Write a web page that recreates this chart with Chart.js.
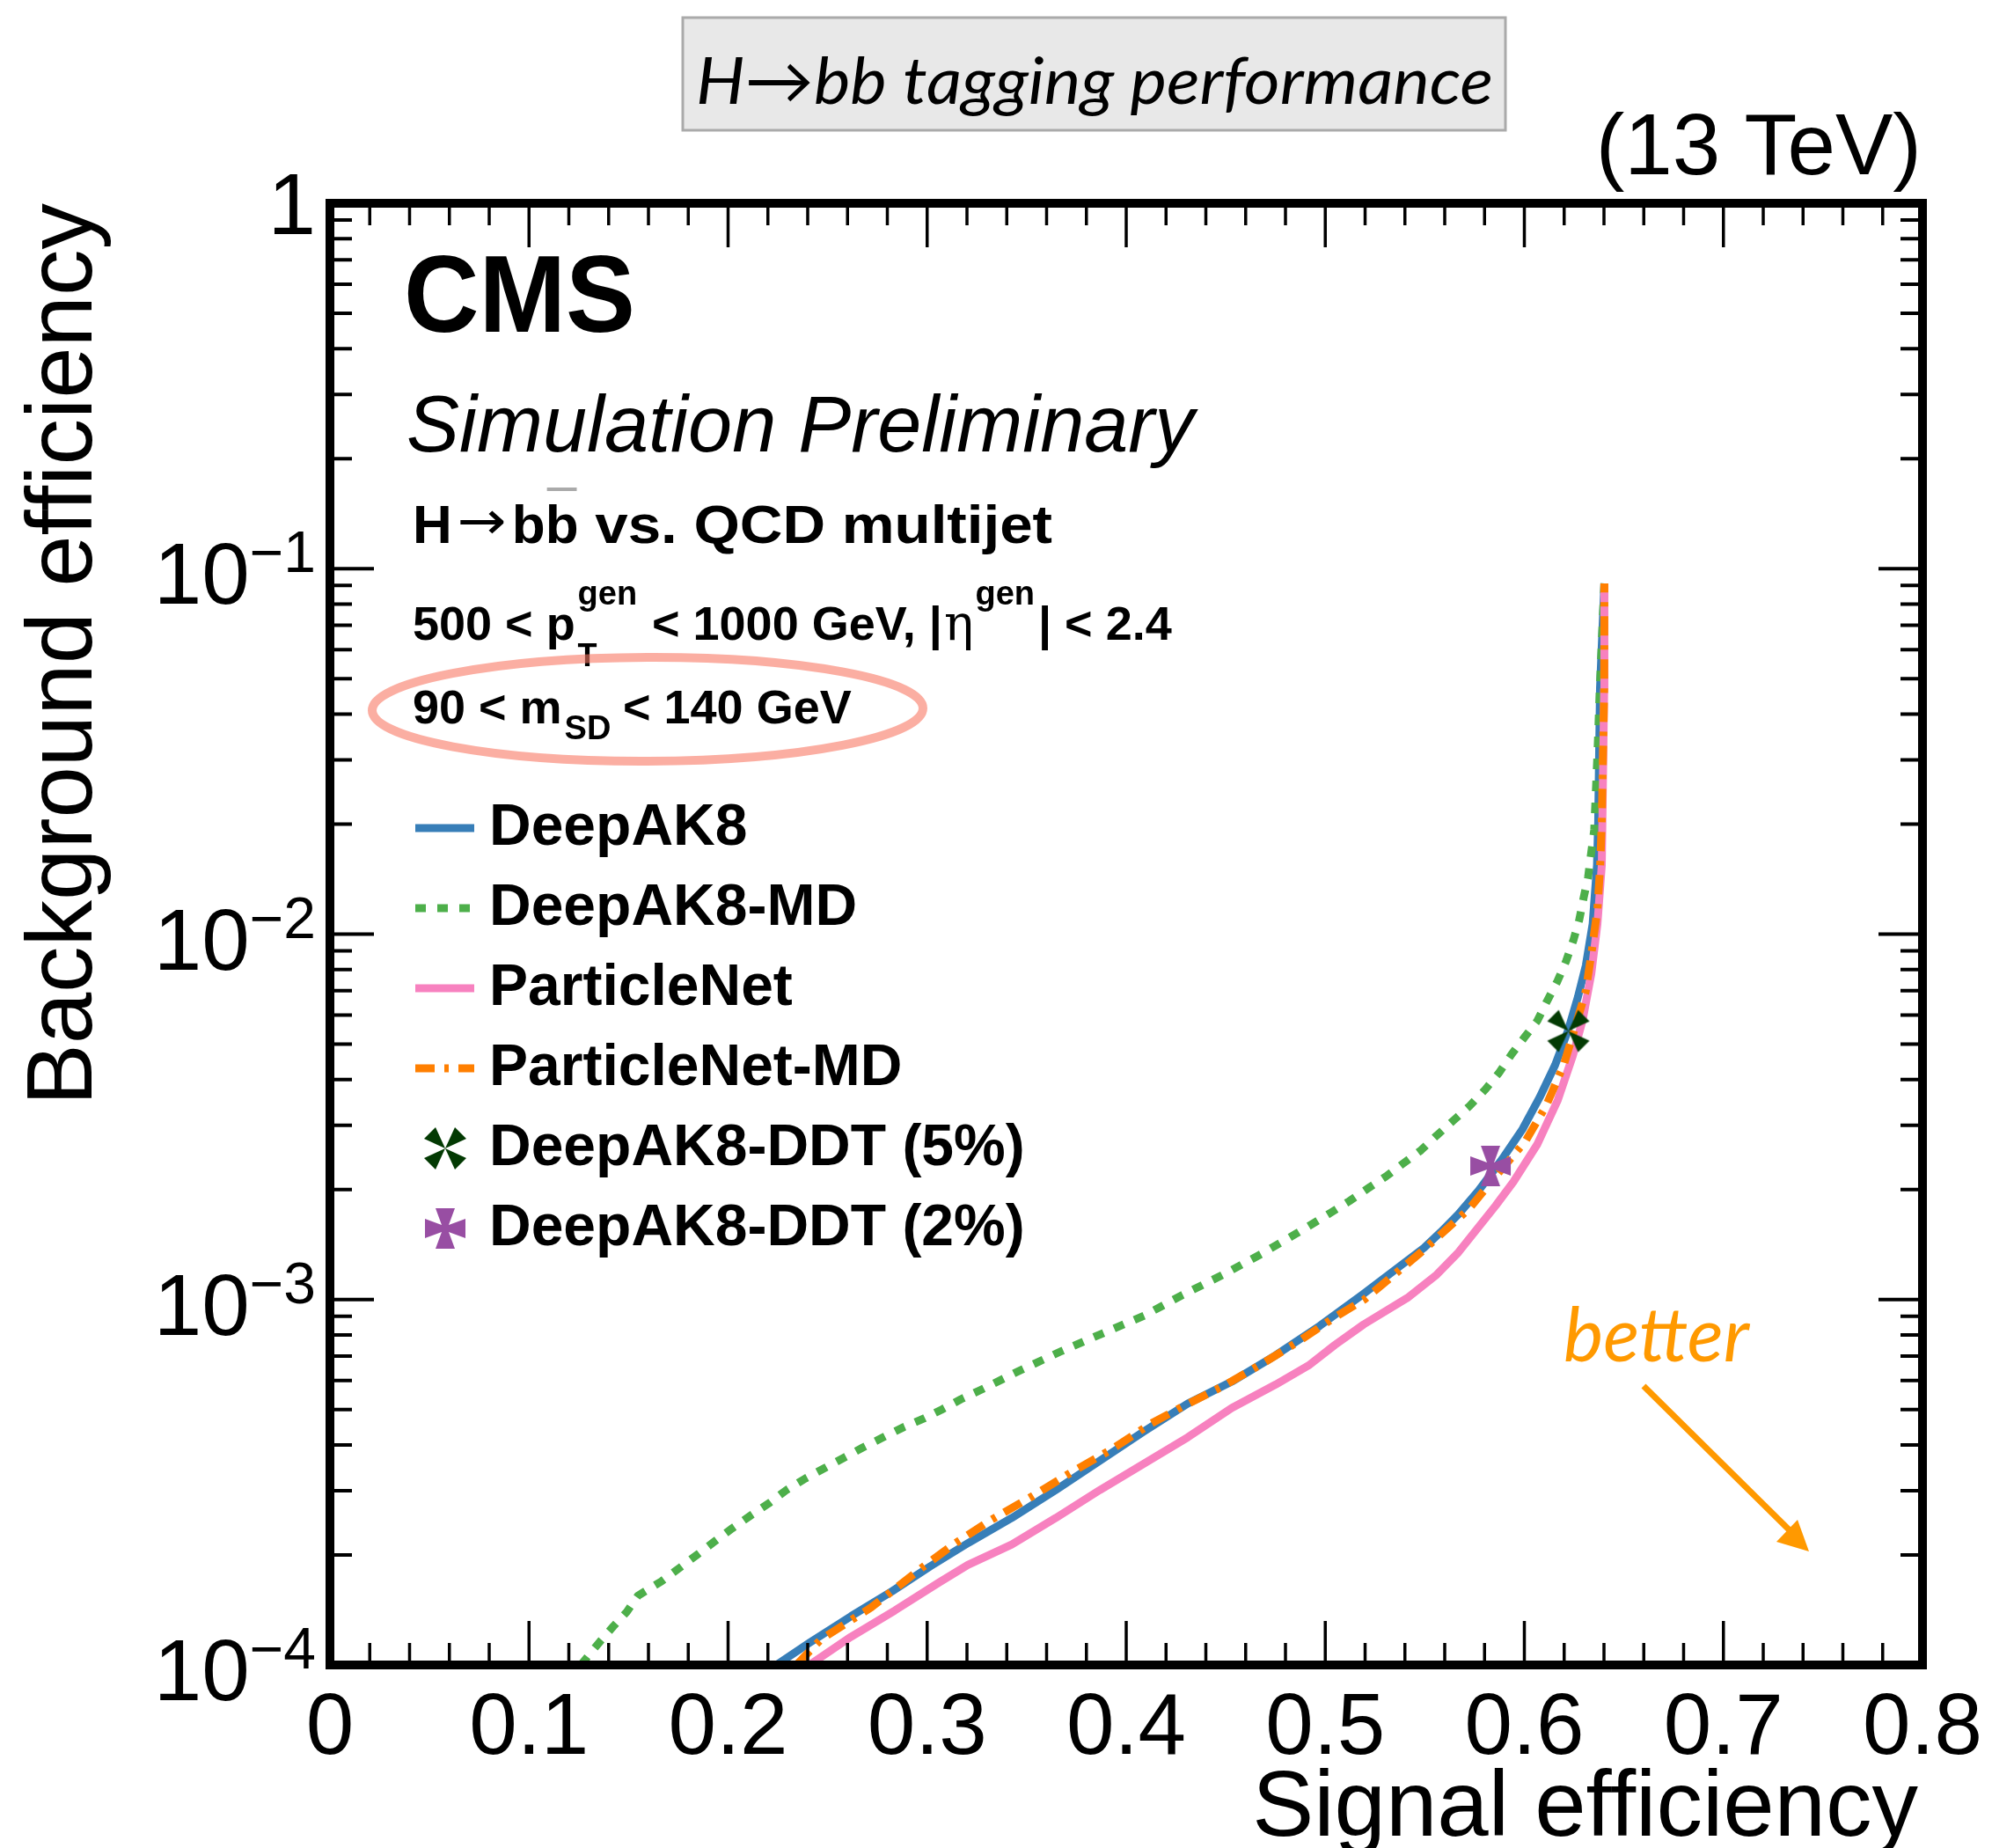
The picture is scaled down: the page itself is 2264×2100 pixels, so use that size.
<!DOCTYPE html>
<html>
<head>
<meta charset="utf-8">
<script src="https://cdn.jsdelivr.net/npm/chart.js@4.4.1/dist/chart.umd.min.js"></script>
<style>
  html, body { margin: 0; padding: 0; background: #ffffff; }
  canvas { display: block; }
</style>
</head>
<body>
<canvas id="chart" width="2264" height="2100"></canvas>
<script>
// ROC curves: signal efficiency vs background efficiency
const sigDeepAK8 = [0.2243, 0.2409, 0.2617, 0.2823, 0.3015, 0.3207, 0.3425, 0.3646, 0.3867, 0.4088, 0.4309, 0.4530, 0.4751, 0.4972, 0.5187, 0.5496, 0.5580, 0.5668, 0.5770, 0.5889, 0.5991, 0.6077, 0.6155, 0.6221, 0.6269, 0.6309, 0.6343, 0.6365, 0.6371, 0.6380, 0.6402];
const bkgDeepAK8 = [1.0e-4, 1.150e-4, 1.359e-4, 1.590e-4, 1.861e-4, 2.158e-4, 2.525e-4, 3.010e-4, 3.620e-4, 4.353e-4, 5.190e-4, 5.962e-4, 7.04e-4, 8.47e-4, 1.032e-3, 1.385e-3, 1.530e-3, 1.710e-3, 1.986e-3, 2.425e-3, 2.928e-3, 3.576e-3, 4.389e-3, 5.48e-3, 6.727e-3, 8.21e-3, 0.01066, 0.01545, 0.02039, 0.04684, 0.0911];

const sigDeepAK8MD = [0.1260, 0.1358, 0.1424, 0.1491, 0.1547, 0.1667, 0.1756, 0.1844, 0.1932, 0.2021, 0.2116, 0.2205, 0.2293, 0.2389, 0.2485, 0.2580, 0.2676, 0.2779, 0.2883, 0.2986, 0.3074, 0.3170, 0.3264, 0.3472, 0.3678, 0.3883, 0.4090, 0.4281, 0.4488, 0.4678, 0.4855, 0.5028, 0.5120, 0.5217, 0.5304, 0.5392, 0.5481, 0.5561, 0.5645, 0.5724, 0.5804, 0.5870, 0.5936, 0.6003, 0.6065, 0.6113, 0.6166, 0.6210, 0.6247, 0.6276, 0.6298, 0.6320, 0.6334, 0.6351, 0.6367, 0.6379, 0.6402];
const bkgDeepAK8MD = [1.0e-4, 1.161e-4, 1.276e-4, 1.397e-4, 1.547e-4, 1.696e-4, 1.843e-4, 2.002e-4, 2.177e-4, 2.366e-4, 2.571e-4, 2.769e-4, 3.010e-4, 3.240e-4, 3.457e-4, 3.686e-4, 3.933e-4, 4.198e-4, 4.478e-4, 4.732e-4, 5.002e-4, 5.336e-4, 5.640e-4, 6.418e-4, 7.238e-4, 8.085e-4, 9.036e-4, 1.028e-3, 1.171e-3, 1.332e-3, 1.516e-3, 1.729e-3, 1.858e-3, 2.019e-3, 2.170e-3, 2.359e-3, 2.563e-3, 2.816e-3, 3.095e-3, 3.382e-3, 3.758e-3, 4.153e-3, 4.690e-3, 5.241e-3, 5.790e-3, 6.541e-3, 7.43e-3, 8.44e-3, 9.65e-3, 0.01096, 0.01259, 0.01429, 0.01642, 0.01929, 0.0309, 0.04684, 0.0911];

const sigParticleNet = [0.2409, 0.2617, 0.2838, 0.3059, 0.3204, 0.3425, 0.3646, 0.3867, 0.4088, 0.4309, 0.4530, 0.4751, 0.4916, 0.5048, 0.5193, 0.5412, 0.5560, 0.5669, 0.5856, 0.5945, 0.6066, 0.6168, 0.6243, 0.6292, 0.6336, 0.6367, 0.6389, 0.6392, 0.6401, 0.6402];
const bkgParticleNet = [1.0e-4, 1.194e-4, 1.410e-4, 1.681e-4, 1.878e-4, 2.137e-4, 2.525e-4, 3.010e-4, 3.554e-4, 4.198e-4, 5.049e-4, 5.853e-4, 6.599e-4, 7.510e-4, 8.55e-4, 1.010e-3, 1.170e-3, 1.347e-3, 1.807e-3, 2.099e-3, 2.665e-3, 3.515e-3, 4.639e-3, 5.790e-3, 7.772e-3, 0.01066, 0.01545, 0.02039, 0.04684, 0.0911];

const sigParticleNetMD = [0.2343, 0.2466, 0.2718, 0.2983, 0.3133, 0.3325, 0.3531, 0.3723, 0.3929, 0.4120, 0.4297, 0.4488, 0.4680, 0.4872, 0.5048, 0.5196, 0.5481, 0.5724, 0.5856, 0.6006, 0.6109, 0.6198, 0.6256, 0.6308, 0.6337, 0.6367, 0.6381, 0.6389, 0.6401, 0.6402];
const bkgParticleNetMD = [1.0e-4, 1.174e-4, 1.436e-4, 1.861e-4, 2.137e-4, 2.501e-4, 2.900e-4, 3.363e-4, 3.896e-4, 4.562e-4, 5.140e-4, 5.80e-4, 6.66e-4, 7.72e-4, 8.95e-4, 1.000e-3, 1.347e-3, 1.775e-3, 2.175e-3, 2.714e-3, 3.388e-3, 4.389e-3, 5.58e-3, 6.966e-3, 8.86e-3, 0.01169, 0.01543, 0.02036, 0.04684, 0.0911];

// DDT working points
const sigDDT5 = [0.6221];
const bkgDDT5 = [0.00543];
const sigDDT2 = [0.5830];
const bkgDDT2 = [0.00232];

// axis ticks
const xTickValues = [0, 0.1, 0.2, 0.3, 0.4, 0.5, 0.6, 0.7, 0.8];
const xTickLabels = ["0", "0.1", "0.2", "0.3", "0.4", "0.5", "0.6", "0.7", "0.8"];
const yTickValues = [1, 0.1, 0.01, 0.001, 0.0001];
const yTickExponents = [0, -1, -2, -3, -4];

const SANS = '"Liberation Sans", Arial, Helvetica, sans-serif';
const HUMANIST = 'Lato, "Open Sans", "DejaVu Sans", sans-serif';

function zip(xs, ys) {
  let n = Math.min(xs.length, ys.length);
  let out = [];
  for (let i = 0; i < n; i++) out.push({x: xs[i], y: ys[i]});
  return out;
}

// Marker images (ROOT style crosses)
function makeMarker(color, diagonal) {
  let c = document.createElement("canvas");
  c.width = 54; c.height = 54;
  let g = c.getContext("2d");
  g.translate(27, 27);
  g.fillStyle = color;
  if (diagonal) {
    for (let k = 0; k < 4; k++) {
      g.save();
      g.rotate(k * Math.PI / 2);
      g.beginPath();
      g.moveTo(0, 0);
      g.lineTo(-24, -11);
      g.lineTo(-11, -24);
      g.closePath();
      g.fill();
      g.restore();
    }
  } else {
    g.beginPath();
    let pts = [[-11,-23],[11,-23],[4,-4],[23,-11],[23,11],[4,4],[11,23],[-11,23],[-4,4],[-23,11],[-23,-11],[-4,-4]];
    g.moveTo(pts[0][0], pts[0][1]);
    pts.slice(1).forEach(p => g.lineTo(p[0], p[1]));
    g.closePath();
    g.fill();
  }
  return c;
}

const markerDDT5 = makeMarker("#033a03", true);
const markerDDT2 = makeMarker("#984ea3", false);

function lineSet(label, xs, ys, color, dash, order) {
  return {
    label: label,
    data: zip(xs, ys),
    borderColor: color,
    backgroundColor: color,
    borderWidth: 9,
    borderDash: dash,
    borderCapStyle: "butt",
    borderJoinStyle: "round",
    pointRadius: 0,
    tension: 0,
    fill: false,
    order: order
  };
}

function pointSet(label, xs, ys, img) {
  return {
    label: label,
    data: zip(xs, ys),
    showLine: false,
    pointStyle: img,
    pointRadius: 26,
    borderColor: "transparent",
    backgroundColor: "transparent",
    order: 0
  };
}

const datasets = [
  lineSet("DeepAK8", sigDeepAK8, bkgDeepAK8, "#377eb8", [], 4),
  lineSet("DeepAK8-MD", sigDeepAK8MD, bkgDeepAK8MD, "#4daf4a", [12, 13], 3),
  lineSet("ParticleNet", sigParticleNet, bkgParticleNet, "#f781bf", [], 2),
  lineSet("ParticleNet-MD", sigParticleNetMD, bkgParticleNetMD, "#ff7f00", [22, 11, 5, 11], 1),
  pointSet("DeepAK8-DDT (5%)", sigDDT5, bkgDDT5, markerDDT5),
  pointSet("DeepAK8-DDT (2%)", sigDDT2, bkgDDT2, markerDDT2)
];

// draw text squeezed/stretched to a given width
function fitText(ctx, text, x, y, width) {
  let w = ctx.measureText(text).width;
  ctx.save();
  ctx.translate(x, y);
  ctx.scale(width / w, 1);
  ctx.textAlign = "left";
  ctx.fillText(text, 0, 0);
  ctx.restore();
}

function put(ctx, text, x, y, font) {
  ctx.font = font;
  ctx.textAlign = "left";
  ctx.fillText(text, x, y);
  return x + ctx.measureText(text).width;
}

const decor = {
  id: "cmsDecor",
  afterDatasetsDraw(chart) {
    let ctx = chart.ctx;
    let xs = chart.scales.x, ys = chart.scales.y;
    let a = chart.chartArea;
    ctx.save();
    ctx.fillStyle = "#000";
    ctx.strokeStyle = "#000";

    // ticks on all four sides, pointing inside
    ctx.lineWidth = 3.5;
    for (let i = 0; i <= 40; i++) {
      let px = xs.getPixelForValue(i / 50);
      let len = i % 5 === 0 ? 50 : 25;
      ctx.beginPath();
      ctx.moveTo(px, a.bottom); ctx.lineTo(px, a.bottom - len);
      ctx.moveTo(px, a.top); ctx.lineTo(px, a.top + len);
      ctx.stroke();
    }
    ctx.lineWidth = 4;
    let yTicks = [1];
    for (let e = -4; e <= -1; e++) for (let m = 1; m <= 9; m++) yTicks.push(m * Math.pow(10, e));
    yTicks.forEach(v => {
      let py = ys.getPixelForValue(v);
      let major = Math.abs(Math.log10(v) - Math.round(Math.log10(v))) < 1e-9;
      let len = major ? 50 : 25;
      ctx.beginPath();
      ctx.moveTo(a.left, py); ctx.lineTo(a.left + len, py);
      ctx.moveTo(a.right, py); ctx.lineTo(a.right - len, py);
      ctx.stroke();
    });

    // frame
    ctx.lineWidth = 10;
    ctx.strokeRect(a.left, a.top, a.right - a.left, a.bottom - a.top);

    // x tick labels
    ctx.font = "98px " + SANS;
    ctx.textAlign = "center";
    ctx.textBaseline = "alphabetic";
    xTickValues.forEach((v, i) => {
      ctx.fillText(xTickLabels[i], xs.getPixelForValue(v), 1993);
    });

    // y tick labels (powers of ten)
    let labelRight = a.left - 16;
    yTickValues.forEach((v, i) => {
      let py = ys.getPixelForValue(v);
      let ex = yTickExponents[i];
      ctx.textAlign = "right";
      if (ex === 0) {
        ctx.font = "98px " + SANS;
        ctx.fillText("1", labelRight, py + 35);
      } else {
        ctx.font = "66px " + SANS;
        let sup = "\u2212" + Math.abs(ex);
        let sw = ctx.measureText(sup).width;
        ctx.fillText(sup, labelRight, py + 4);
        ctx.font = "98px " + SANS;
        ctx.fillText("10", labelRight - sw, py + 40);
      }
    });

    // axis titles
    ctx.font = "105px " + SANS;
    ctx.textAlign = "right";
    ctx.fillText("Signal efficiency", 2180, 2086);
    ctx.save();
    ctx.translate(104, a.top);
    ctx.rotate(-Math.PI / 2);
    ctx.textAlign = "right";
    ctx.fillText("Background efficiency", 0, 0);
    ctx.restore();

    // energy label
    ctx.font = "98px " + SANS;
    ctx.textAlign = "right";
    ctx.fillText("(13 TeV)", 2184, 198);

    // title box
    ctx.fillStyle = "#e8e8e8";
    ctx.fillRect(776, 20, 935, 128);
    ctx.strokeStyle = "#aaaaaa";
    ctx.lineWidth = 3;
    ctx.strokeRect(776, 20, 935, 128);
    ctx.fillStyle = "#000";
    ctx.font = "italic 74px " + HUMANIST;
    fitText(ctx, "H\u2192bb tagging performance", 791, 118, 906);

    // CMS labels
    ctx.font = "bold 125px " + SANS;
    fitText(ctx, "CMS", 459, 377, 263);
    ctx.font = "italic 90px " + SANS;
    ctx.textAlign = "left";
    ctx.fillText("Simulation Preliminary", 462, 513);

    // process line
    let x = put(ctx, "H", 469, 617, "bold 62px " + SANS);
    ctx.font = "60px \"DejaVu Sans\"";
    fitText(ctx, "\u2192", x + 6, 612, 56);
    x = x + 6 + 56 + 6;
    ctx.font = "bold 62px " + SANS;
    let bw = ctx.measureText("b").width;
    x = put(ctx, "bb", x, 617, "bold 62px " + SANS);
    ctx.lineWidth = 4;
    ctx.beginPath();
    ctx.moveTo(x - bw + 2, 556); ctx.lineTo(x - 2, 556);
    ctx.stroke();
    ctx.font = "bold 62px " + SANS;
    fitText(ctx, " vs. QCD multijet", x, 617, 1196 - x);

    // kinematic selection
    x = put(ctx, "500 < p", 469, 727, "bold 54px " + SANS);
    put(ctx, "gen", x + 3, 687, "bold 38px " + SANS);
    put(ctx, "T", x + 3, 757, "bold 36px " + SANS);
    x = put(ctx, "< 1000 GeV, |", 741, 727, "bold 54px " + SANS);
    x = put(ctx, "\u03b7", x + 2, 727, "56px \"DejaVu Serif\"");
    x = put(ctx, "gen", x + 2, 687, "bold 38px " + SANS);
    put(ctx, "| < 2.4", x + 4, 727, "bold 54px " + SANS);

    x = put(ctx, "90 < m", 469, 822, "bold 54px " + SANS);
    put(ctx, "SD", x + 3, 840, "bold 38px " + SANS);
    put(ctx, "< 140 GeV", 708, 822, "bold 54px " + SANS);

    // hand drawn highlight
    ctx.strokeStyle = "rgba(248, 120, 100, 0.6)";
    ctx.lineWidth = 10;
    ctx.beginPath();
    ctx.ellipse(736, 806, 313, 59, -0.004, 0, Math.PI * 2);
    ctx.stroke();

    // legend
    let legY = [941, 1032, 1123, 1214, 1305, 1396];
    chart.data.datasets.forEach((ds, i) => {
      let y = legY[i];
      if (ds.showLine === false) {
        ctx.drawImage(ds.pointStyle, 506 - 27, y - 27);
      } else {
        ctx.save();
        ctx.strokeStyle = ds.borderColor;
        ctx.lineWidth = ds.borderWidth;
        ctx.setLineDash(ds.borderDash);
        ctx.beginPath();
        ctx.moveTo(472, y); ctx.lineTo(539, y);
        ctx.stroke();
        ctx.restore();
      }
      ctx.fillStyle = "#000";
      put(ctx, ds.label, 556, y + 19, "bold 66px " + SANS);
    });

    // "better" arrow
    ctx.fillStyle = "#ff9900";
    ctx.strokeStyle = "#ff9900";
    ctx.font = "italic 86px " + HUMANIST;
    fitText(ctx, "better", 1777, 1547, 211);
    ctx.lineWidth = 7;
    ctx.beginPath();
    ctx.moveTo(1868, 1575); ctx.lineTo(2036, 1741);
    ctx.stroke();
    ctx.beginPath();
    ctx.moveTo(2056, 1763); ctx.lineTo(2019, 1752); ctx.lineTo(2043, 1727);
    ctx.closePath();
    ctx.fill();

    ctx.restore();
  }
};

new Chart(document.getElementById("chart"), {
  type: "line",
  data: { datasets: datasets },
  options: {
    responsive: false,
    animation: false,
    devicePixelRatio: 1,
    events: [],
    layout: { padding: { left: 0, right: 79, top: 231, bottom: 0 } },
    plugins: { legend: { display: false }, tooltip: { enabled: false } },
    scales: {
      x: {
        type: "linear", min: 0, max: 0.8,
        grid: { display: false }, border: { display: false },
        ticks: { display: false },
        afterFit: s => { s.height = 208; }
      },
      y: {
        type: "logarithmic", min: 1e-4, max: 1,
        grid: { display: false }, border: { display: false },
        ticks: { display: false },
        afterFit: s => { s.width = 375; }
      }
    }
  },
  plugins: [decor]
});
</script>
</body>
</html>
